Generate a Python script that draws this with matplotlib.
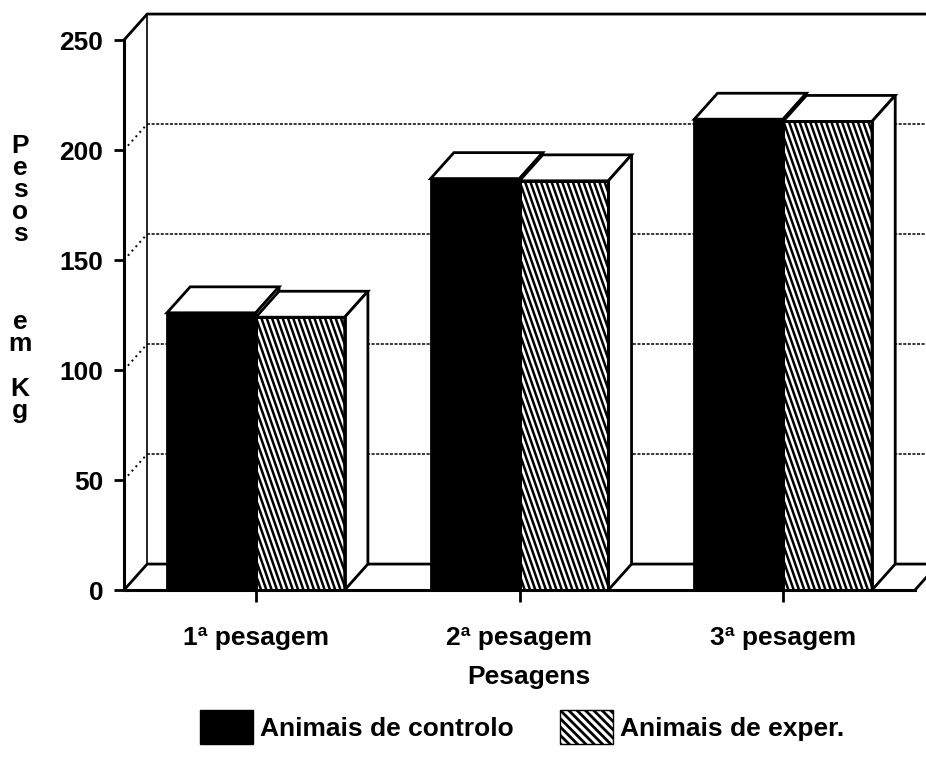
import numpy as np
import matplotlib
matplotlib.use("Agg")
import matplotlib.pyplot as plt
from matplotlib.patches import Patch
from matplotlib.collections import LineCollection

# data
categories = ["1ª pesagem", "2ª pesagem", "3ª pesagem"]
controlo = [126, 187, 214]
exper = [124, 186, 213]
series_labels = ["Animais de controlo", "Animais de exper."]
y_ticks = [0, 50, 100, 150, 200, 250]
x_title = "Pesagens"
y_title = "Pesos em Kg"

plt.rcParams["font.family"] = ["Liberation Sans", "DejaVu Sans"]
plt.rcParams["font.weight"] = "bold"
plt.rcParams["hatch.linewidth"] = 2.0

W, H = 926, 757
fig = plt.figure(figsize=(W / 100, H / 100), dpi=100)
ax = fig.add_axes([124 / W, 167 / H, 791 / W, 550 / H])
ax.set_xlim(-0.5, len(categories) - 0.5)
ax.set_ylim(0, 250)

DX, DY = 0.088, 11.8   # fake 3d depth, in data units
FS = 19
x = np.arange(len(categories))
bw = 0.337
xl, xr = -0.5, len(categories) - 0.5

# --- walls and floor
wall = dict(color="black", lw=2, clip_on=False, zorder=1, solid_capstyle="butt")
ax.plot([xl, xl + DX, xr + DX + 0.2], [250, 250 + DY, 250 + DY], **wall)
ax.plot([xl + DX, xl + DX], [DY, 250 + DY], color="black", lw=1.2, clip_on=False, zorder=1)
ax.plot([xl, xl + DX, xr + DX + 0.2], [0, DY, DY], **wall)
ax.plot([xr, xr + DX], [0, DY], **wall)
for v in y_ticks[1:-1]:
    ax.plot([xl + DX, xr + DX + 0.2], [v + DY, v + DY], color="black", lw=1.1,
            ls=(0, (2, 1)), clip_on=False, zorder=1)
    ax.plot([xl, xl + DX], [v, v + DY], color="black", lw=1.4, ls=(0, (1, 2)),
            clip_on=False, zorder=1)

# pixel scale, for the steep stripes
p0 = ax.transData.transform((0, 0))
p1 = ax.transData.transform((1, 1))
ppx, ppy = p1 - p0


def draw_box(x0, h, face, z, striped=False):
    bars = ax.bar([x0], [h], bw, align="edge", color=face, edgecolor="black",
                  lw=2, zorder=z)
    x1 = x0 + bw
    ax.fill([x0, x1, x1 + DX, x0 + DX], [h, h, h + DY, h + DY], facecolor="white",
            edgecolor="black", lw=2, zorder=z, clip_on=False)
    ax.fill([x1, x1 + DX, x1 + DX, x1], [0, DY, h + DY, h], facecolor="white",
            edgecolor="black", lw=2, zorder=z, clip_on=False)
    if striped:
        k = 0.35
        shift = k * h * ppy / ppx
        step = 5.3 / ppx
        segs = [[(xs, h), (xs + shift, 0)] for xs in np.arange(x0 - shift, x1, step)]
        lc = LineCollection(segs, colors="black", linewidths=1.8, zorder=z + 0.1)
        ax.add_collection(lc)
        lc.set_clip_path(bars.patches[0])
        ax.bar([x0], [h], bw, align="edge", fill=False, edgecolor="black",
               lw=2, zorder=z + 0.2)


for i in range(len(categories)):
    draw_box(x[i] - bw, controlo[i], "black", 3)
    draw_box(x[i], exper[i], "white", 4, striped=True)

# --- axes
for s in ["top", "right"]:
    ax.spines[s].set_visible(False)
for s in ["left", "bottom"]:
    ax.spines[s].set_linewidth(2.2)
    ax.spines[s].set_zorder(6)
ax.set_xticks(x, categories)
ax.set_yticks(y_ticks)
ax.tick_params(axis="x", length=8.6, width=2, pad=17, labelsize=FS)
ax.tick_params(axis="y", length=7, width=2, pad=8, labelsize=FS)

fig.text(529 / W, 1 - 677 / H, x_title, ha="center", va="center", fontsize=FS)

# y title: one letter per line, the words in three stacked blocks
word_top = [145, 321, 388]
for word, yy in zip(y_title.split(), word_top):
    fig.text(20 / W, 1 - (yy - 11) / H, "\n".join(word), ha="center", va="top",
             fontsize=FS, linespacing=0.9)

handles = [Patch(facecolor="black", edgecolor="black"),
           Patch(facecolor="white", edgecolor="black", hatch="\\\\\\\\")]
fig.legend(handles, series_labels, loc="center", bbox_to_anchor=(522 / W, 1 - 727 / H),
           ncol=2, frameon=False, fontsize=FS, handlelength=2.0, handleheight=1.6,
           handletextpad=0.27, columnspacing=1.75)

fig.savefig("out.png", dpi=100)
